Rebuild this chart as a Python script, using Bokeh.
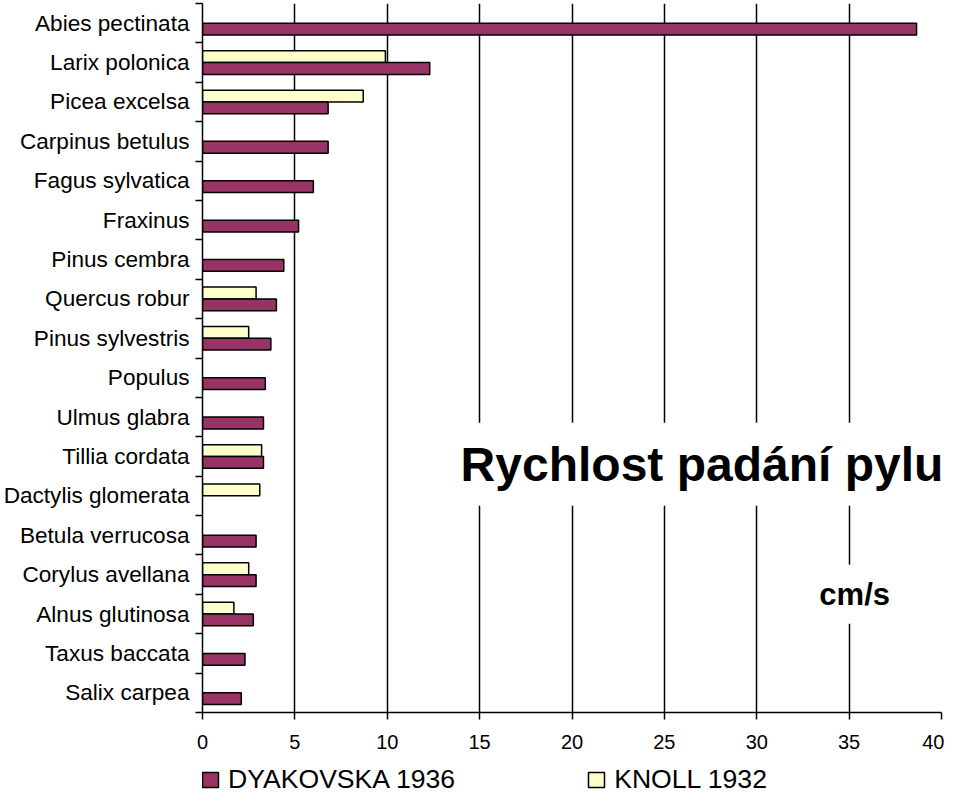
from bokeh.plotting import figure
from bokeh.layouts import column
from bokeh.models import (Range1d, LinearAxis, FixedTicker, Label, Legend, LegendItem,
                          ColumnDataSource, Grid)
from bokeh.embed import file_html
from bokeh.resources import INLINE

# ---- data (top to bottom as in the chart) ----
categories = ["Abies pectinata", "Larix polonica", "Picea excelsa", "Carpinus betulus",
              "Fagus sylvatica", "Fraxinus", "Pinus cembra", "Quercus robur",
              "Pinus sylvestris", "Populus", "Ulmus glabra", "Tillia cordata",
              "Dactylis glomerata", "Betula verrucosa", "Corylus avellana",
              "Alnus glutinosa", "Taxus baccata", "Salix carpea"]
dyakovska_1936 = [38.65, 12.3, 6.8, 6.8, 6.0, 5.2, 4.4, 4.0, 3.7, 3.4, 3.3, 3.3,
                  None, 2.9, 2.9, 2.75, 2.3, 2.1]
knoll_1932 = [None, 9.9, 8.7, None, None, None, None, 2.9, 2.5, None, None, 3.2,
              3.1, None, 2.5, 1.7, None, None]
x_ticks = [0, 5, 10, 15, 20, 25, 30, 35, 40]
series_names = ["DYAKOVSKA 1936", "KNOLL 1932"]
title_text = "Rychlost padání pylu"
unit_text = "cm/s"

MAROON = "#993366"
CREAM = "#FFFFCC"
FONT = "Liberation Sans"

n = len(categories)
centers = [n - i - 0.5 for i in range(n)]  # top category at the top
BAR_H = 0.3

d_src = ColumnDataSource(dict(
    y=[c - BAR_H / 2 for c, v in zip(centers, dyakovska_1936) if v is not None],
    right=[v for v in dyakovska_1936 if v is not None]))
k_src = ColumnDataSource(dict(
    y=[c + BAR_H / 2 for c, v in zip(centers, knoll_1932) if v is not None],
    right=[v for v in knoll_1932 if v is not None]))

W = 944
MAIN_H = 758
LEG_H = 795 - MAIN_H

p = figure(width=W, height=MAIN_H, output_backend="svg", toolbar_location=None,
           x_range=Range1d(0, 40), y_range=Range1d(0, n),
           x_axis_type=None, y_axis_type=None,
           min_border_left=202, min_border_right=3, min_border_top=3,
           min_border_bottom=46)
p.outline_line_color = None
p.background_fill_color = "white"
p.border_fill_color = "white"

# x axis
xa = LinearAxis(ticker=FixedTicker(ticks=x_ticks, minor_ticks=[]))
xa.axis_line_color = "black"
xa.axis_line_width = 1.5
xa.major_tick_line_color = "black"
xa.major_tick_line_width = 1.5
xa.major_tick_in = 0
xa.major_tick_out = 7
xa.minor_tick_out = 0
xa.major_label_text_font = FONT
xa.major_label_text_font_size = "20px"
xa.major_label_text_color = "black"
xa.major_label_standoff = 15
p.add_layout(xa, "below")

# y axis: labels at category centres, ticks at category boundaries
ya = LinearAxis(ticker=FixedTicker(ticks=centers, minor_ticks=list(range(n + 1))))
ya.axis_line_color = "black"
ya.axis_line_width = 1.5
ya.major_tick_in = 0
ya.major_tick_out = 0
ya.major_tick_line_color = None
ya.minor_tick_in = 0
ya.minor_tick_out = 7
ya.minor_tick_line_color = "black"
ya.minor_tick_line_width = 1.5
ya.major_label_overrides = {c: name for c, name in zip(centers, categories)}
ya.major_label_text_font = FONT
ya.major_label_text_font_size = "22.6px"
ya.major_label_text_color = "black"
ya.major_label_standoff = 6
p.add_layout(ya, "left")

# vertical gridlines
g = Grid(dimension=0, ticker=FixedTicker(ticks=[t for t in x_ticks if 0 < t < 40]))
g.grid_line_color = "black"
g.grid_line_width = 1.5
p.add_layout(g)

r_k = p.hbar(y="y", left=0, right="right", height=BAR_H, source=k_src,
             fill_color=CREAM, line_color="black", line_width=1.5)
r_d = p.hbar(y="y", left=0, right="right", height=BAR_H, source=d_src,
             fill_color=MAROON, line_color="black", line_width=1.5)

title = Label(x=40.1, y=6.3, text=title_text, text_align="right",
              text_baseline="middle", text_font=FONT, text_font_style="bold",
              text_font_size="48px", text_color="black",
              background_fill_color="white",
              padding=dict(left=10, right=0, top=15, bottom=15))
p.add_layout(title)

unit = Label(x=35.3, y=3.0, text=unit_text, text_align="center",
             text_baseline="middle", text_font=FONT, text_font_style="bold",
             text_font_size="31px", text_color="black",
             background_fill_color="white",
             padding=dict(left=4, right=4, top=12, bottom=12))
p.add_layout(unit)

# ---- legend strip below the chart (hidden renderers only supply the legend swatches) ----
lf = figure(width=W, height=LEG_H, output_backend="svg", toolbar_location=None,
            x_range=Range1d(1000, 1001), y_range=Range1d(1000, 1001),
            x_axis_type=None, y_axis_type=None,
            min_border=0)
lf.outline_line_color = None
lf.xgrid.visible = False
lf.ygrid.visible = False
lr_d = lf.hbar(y="y", left=0, right="right", height=BAR_H, source=d_src,
               fill_color=MAROON, line_color="black", line_width=1.5)
lr_k = lf.hbar(y="y", left=0, right="right", height=BAR_H, source=k_src,
               fill_color=CREAM, line_color="black", line_width=1.5)
lr_d.visible = False
lr_k.visible = False
legend = Legend(items=[LegendItem(label=series_names[0], renderers=[lr_d]),
                       LegendItem(label=series_names[1], renderers=[lr_k])],
                orientation="horizontal", location=(-2, 0),
                label_text_font=FONT, label_text_font_size="26.6px",
                label_text_color="black", glyph_width=20, glyph_height=19,
                label_standoff=8, spacing=131, padding=0, margin=0,
                inactive_fill_alpha=0,
                border_line_color=None, background_fill_alpha=0)
lf.add_layout(legend, "center")

layout = column(p, lf, spacing=0)
open("out.html", "w").write(file_html(layout, INLINE))
